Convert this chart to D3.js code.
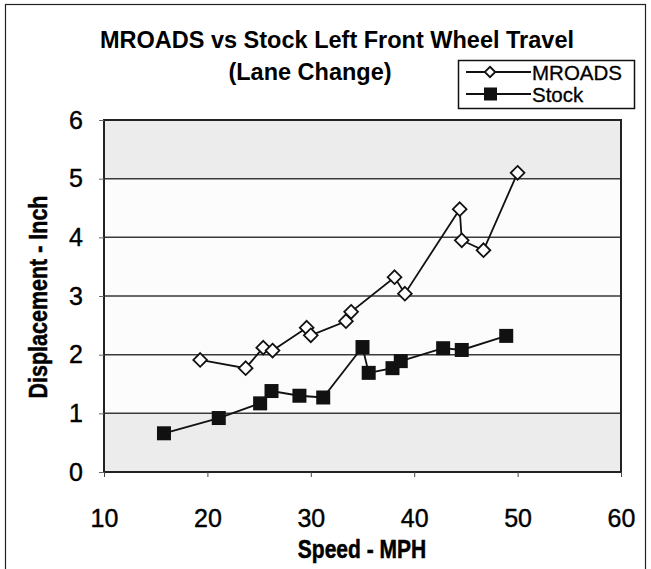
<!DOCTYPE html>
<html>
<head>
<meta charset="utf-8">
<script src="https://cdn.jsdelivr.net/npm/d3@7"></script>
<style>
  html, body { margin: 0; padding: 0; background: #fff; }
  svg { display: block; font-family: "Liberation Sans", Arial, sans-serif; }
</style>
</head>
<body>
<svg id="chart" width="651" height="569"></svg>
<script>
const titleLines = ["MROADS vs Stock Left Front Wheel Travel", "(Lane Change)"];
const xTicks = [10, 20, 30, 40, 50, 60];
const yTicks = [0, 1, 2, 3, 4, 5, 6];
const xLabel = "Speed - MPH";
const yLabel = "Displacement - Inch";
const seriesNames = ["MROADS", "Stock"];

const mroadsSpeed = [19.3, 23.7, 25.4, 26.3, 29.6, 30.0, 33.4, 33.9, 38.1, 39.1, 44.4, 44.6, 46.7, 50.0];
const mroadsDisp  = [1.91, 1.77, 2.12, 2.07, 2.46, 2.33, 2.57, 2.73, 3.32, 3.04, 4.48, 3.95, 3.78, 5.10];
const stockSpeed  = [15.8, 21.1, 25.1, 26.2, 28.9, 31.2, 35.0, 35.6, 37.9, 38.7, 42.8, 44.6, 48.9];
const stockDisp   = [0.66, 0.92, 1.17, 1.38, 1.30, 1.27, 2.13, 1.69, 1.77, 1.89, 2.11, 2.08, 2.32];

const svg = d3.select("#chart");
const x = d3.scaleLinear().domain([10, 60]).range([104, 621]);
const y = d3.scaleLinear().domain([0, 6]).range([472, 120]);

// outer border
svg.append("rect").attr("x", 5.5).attr("y", 4.5).attr("width", 640).attr("height", 600)
  .attr("fill", "none").attr("stroke", "#222").attr("stroke-width", 1.2);

// plot background: white middle, light gray bands top and bottom
svg.append("rect").attr("x", x(10)).attr("y", y(6)).attr("width", x(60) - x(10)).attr("height", y(0) - y(6))
  .attr("fill", "#fcfcfc");
[[5, 6], [0, 1]].forEach(([a, b]) => {
  svg.append("rect").attr("x", x(10)).attr("y", y(b)).attr("width", x(60) - x(10)).attr("height", y(a) - y(b))
    .attr("fill", "#ececec");
});

// gridlines
svg.append("g").selectAll("line").data(yTicks.filter(d => d > 0 && d < 6)).join("line")
  .attr("x1", x(10)).attr("x2", x(60)).attr("y1", d => y(d)).attr("y2", d => y(d))
  .attr("stroke", "#3a3a3a").attr("stroke-width", 1.5);

// frame
svg.append("rect").attr("x", x(10)).attr("y", y(6)).attr("width", x(60) - x(10)).attr("height", y(0) - y(6))
  .attr("fill", "none").attr("stroke", "#222").attr("stroke-width", 2);

// axes
const xAxis = d3.axisBottom(x).tickValues(xTicks).tickSize(5).tickPadding(32).tickFormat(d3.format("d"));
const gx = svg.append("g").attr("transform", `translate(0,${y(0)})`).call(xAxis);
gx.select(".domain").remove();
gx.selectAll("text").attr("font-size", 25).attr("fill", "#000").attr("stroke", "#000").attr("stroke-width", 0.4)
  .attr("font-family", "Liberation Sans, Arial, sans-serif");
gx.selectAll("line").attr("stroke", "#444");

const yAxis = d3.axisLeft(y).tickValues(yTicks).tickSize(5).tickPadding(16).tickFormat(d3.format("d"));
const gy = svg.append("g").attr("transform", `translate(${x(10)},0)`).call(yAxis);
gy.select(".domain").remove();
gy.selectAll("text").attr("font-size", 25).attr("fill", "#000").attr("stroke", "#000").attr("stroke-width", 0.4)
  .attr("font-family", "Liberation Sans, Arial, sans-serif");
gy.selectAll("line").attr("stroke", "#666");

// axis titles (condensed like the original)
svg.append("text").attr("transform", "translate(362,558) scale(0.84,1)").attr("text-anchor", "middle")
  .attr("font-size", 25).attr("font-weight", "bold").attr("stroke", "#000").attr("stroke-width", 0.5).text(xLabel);
svg.append("text").attr("transform", "translate(47,297) rotate(-90) scale(0.86,1)").attr("text-anchor", "middle")
  .attr("font-size", 25).attr("font-weight", "bold").attr("stroke", "#000").attr("stroke-width", 0.5).text(yLabel);

// title
svg.append("text").attr("x", 337).attr("y", 48).attr("text-anchor", "middle")
  .attr("font-size", 23.5).attr("font-weight", "bold").text(titleLines[0]);
svg.append("text").attr("x", 310).attr("y", 80).attr("text-anchor", "middle")
  .attr("font-size", 23.5).attr("font-weight", "bold").text(titleLines[1]);

// series
const line = d3.line().x(d => x(d[0])).y(d => y(d[1]));
const mData = mroadsSpeed.map((s, i) => [s, mroadsDisp[i]]);
const sData = stockSpeed.map((s, i) => [s, stockDisp[i]]);

svg.append("path").datum(sData).attr("d", line).attr("fill", "none").attr("stroke", "#111").attr("stroke-width", 1.8);
svg.append("path").datum(mData).attr("d", line).attr("fill", "none").attr("stroke", "#111").attr("stroke-width", 1.8);

const diamond = d3.symbol().type(d3.symbolDiamond2).size(120);
svg.append("g").selectAll("path").data(mData).join("path")
  .attr("transform", d => `translate(${x(d[0])},${y(d[1])})`)
  .attr("d", diamond).attr("fill", "#fff").attr("stroke", "#111").attr("stroke-width", 1.8);

svg.append("g").selectAll("rect").data(sData).join("rect")
  .attr("x", d => x(d[0]) - 7).attr("y", d => y(d[1]) - 7).attr("width", 14).attr("height", 14)
  .attr("fill", "#111");

// legend
const lg = svg.append("g");
lg.append("rect").attr("x", 458.5).attr("y", 60.5).attr("width", 176).attr("height", 48)
  .attr("fill", "#fff").attr("stroke", "#111").attr("stroke-width", 1.5);
const legendRows = [{ name: seriesNames[0], yy: 72 }, { name: seriesNames[1], yy: 94 }];
legendRows.forEach((r, i) => {
  lg.append("line").attr("x1", 466).attr("x2", 531).attr("y1", r.yy).attr("y2", r.yy)
    .attr("stroke", "#111").attr("stroke-width", 1.8);
  if (i === 0) {
    lg.append("path").attr("transform", `translate(490,${r.yy})`).attr("d", d3.symbol().type(d3.symbolDiamond2).size(70))
      .attr("fill", "#fff").attr("stroke", "#111").attr("stroke-width", 1.8);
  } else {
    lg.append("rect").attr("x", 484).attr("y", r.yy - 6.5).attr("width", 13).attr("height", 13).attr("fill", "#111");
  }
  lg.append("text").attr("x", 532).attr("y", r.yy + 7.5).attr("font-size", 20.5)
    .attr("stroke", "#000").attr("stroke-width", 0.3).text(r.name);
});
</script>
</body>
</html>
